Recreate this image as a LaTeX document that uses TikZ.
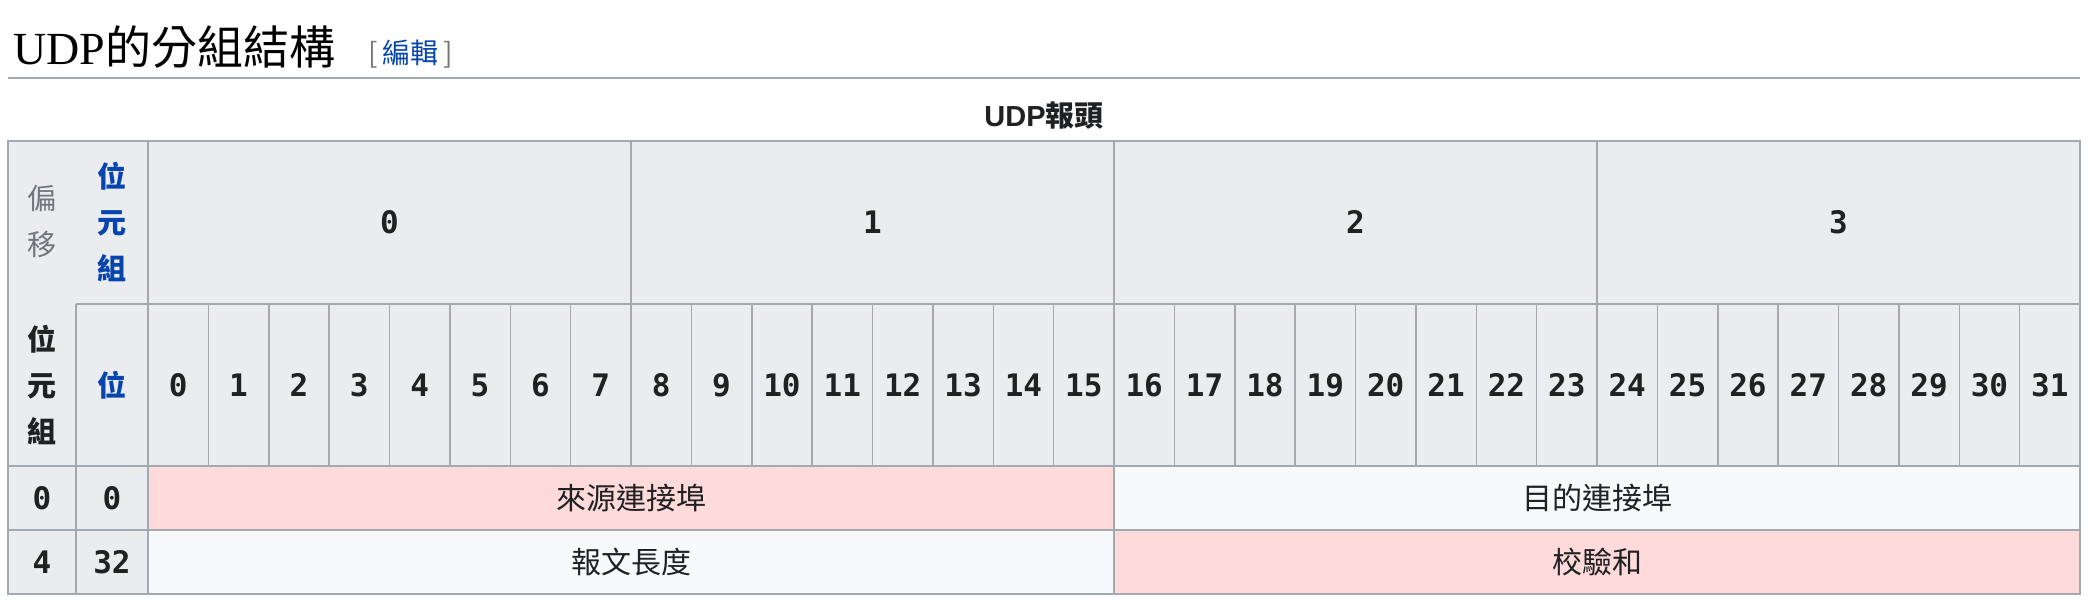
\documentclass[tikz,border=0pt]{standalone}
\usepackage{fontspec}
\setmainfont{Noto Sans CJK TC}
\newfontfamily\bitfont{DejaVu Sans Mono}
\newfontfamily\titlefont{Liberation Serif}
\newfontfamily\capfont{Liberation Sans}
\definecolor{headgray}{HTML}{EAECF0}
\definecolor{rulegray}{HTML}{A2A9B1}
\definecolor{pinkcell}{HTML}{FFDADA}
\definecolor{whitecell}{HTML}{F8F9FA}
\definecolor{linkblue}{HTML}{0645AD}
\definecolor{dimgray}{HTML}{72777D}
\definecolor{inkblack}{HTML}{202122}
\tikzstyle{gridline}=[draw=rulegray,line width=1.5]
\tikzstyle{bit}=[font=\bitfont\bfseries\fontsize{31}{34}\selectfont,text=inkblack]
\tikzstyle{stack}=[align=center,font=\bfseries\fontsize{29}{46}\selectfont]
\tikzstyle{field}=[font=\fontsize{30}{34}\selectfont,text=inkblack]

\begin{document}
\begin{tikzpicture}[x=1pt,y=-1pt]
        \useasboundingbox (0,0) rectangle (2094,611);
        % heading
        \node[anchor=base west,font=\fontsize{46}{50}\selectfont] (title) at (10,64) {{\titlefont UDP}的分組結構};
        \node[anchor=base west,font=\fontsize{28}{30}\selectfont] (edit) at (365,63) {\textcolor{dimgray}{[}\,\textcolor{linkblue}{編輯}\,\textcolor{dimgray}{]}};
        \draw[draw=rulegray,line width=1.3] (8,78) -- (2080,78);
        \node[anchor=base,font=\bfseries\fontsize{29}{34}\selectfont,text=inkblack] (caption) at (1044,126) {{\capfont UDP}報頭};
        % cells
        \fill[headgray] (8,141) rectangle (2080,466);
        \fill[headgray] (8,466) rectangle (148,594);
        \fill[pinkcell] (148,466) rectangle (1114,530);
        \fill[whitecell] (1114,466) rectangle (2080,530);
        \fill[whitecell] (148,530) rectangle (1114,594);
        \fill[pinkcell] (1114,530) rectangle (2080,594);
        \draw[gridline] (8,141) rectangle (2080,594);
        \draw[gridline] (76,304) -- (2080,304);
        \draw[gridline] (8,466) -- (2080,466);
        \draw[gridline] (8,530) -- (2080,530);
        \draw[gridline] (76,304) -- (76,594);
        \draw[gridline] (148,141) -- (148,594);
        \draw[gridline] (1114,466) -- (1114,594);
        \foreach \k in {1,...,31}
          \draw[gridline] ({148+60.375*\k},304) -- ({148+60.375*\k},466);
        \foreach \k in {1,2,3}
          \draw[gridline] ({148+483*\k},141) -- ({148+483*\k},304);
        % header texts
        \node[stack,text=dimgray,font=\mdseries\fontsize{29}{46}\selectfont] (offset) at (42,222) {偏\\移};
        \node[stack,text=linkblue] (octet) at (112,222) {位\\元\\組};
        \node[stack,text=inkblack] (octetrow) at (42,385) {位\\元\\組};
        \node[stack,text=linkblue] (bitrow) at (112,385) {位};
        \foreach \k in {0,...,3}
          \node[bit] (byte\k) at ({148+483*(\k+0.5)},222) {\k};
        \foreach \k in {0,...,31}
          \node[bit] (bit\k) at ({148+60.375*(\k+0.5)},385) {\k};
        % rows
        \node[bit] (off0) at (42,498) {0};
        \node[bit] (pos0) at (112,498) {0};
        \node[bit] (off4) at (42,562) {4};
        \node[bit] (pos32) at (112,562) {32};
        \node[field] (srcport) at (631,498) {來源連接埠};
        \node[field] (dstport) at (1597,498) {目的連接埠};
        \node[field] (length) at (631,562) {報文長度};
        \node[field] (checksum) at (1597,562) {校驗和};
      \end{tikzpicture}
\end{document}
